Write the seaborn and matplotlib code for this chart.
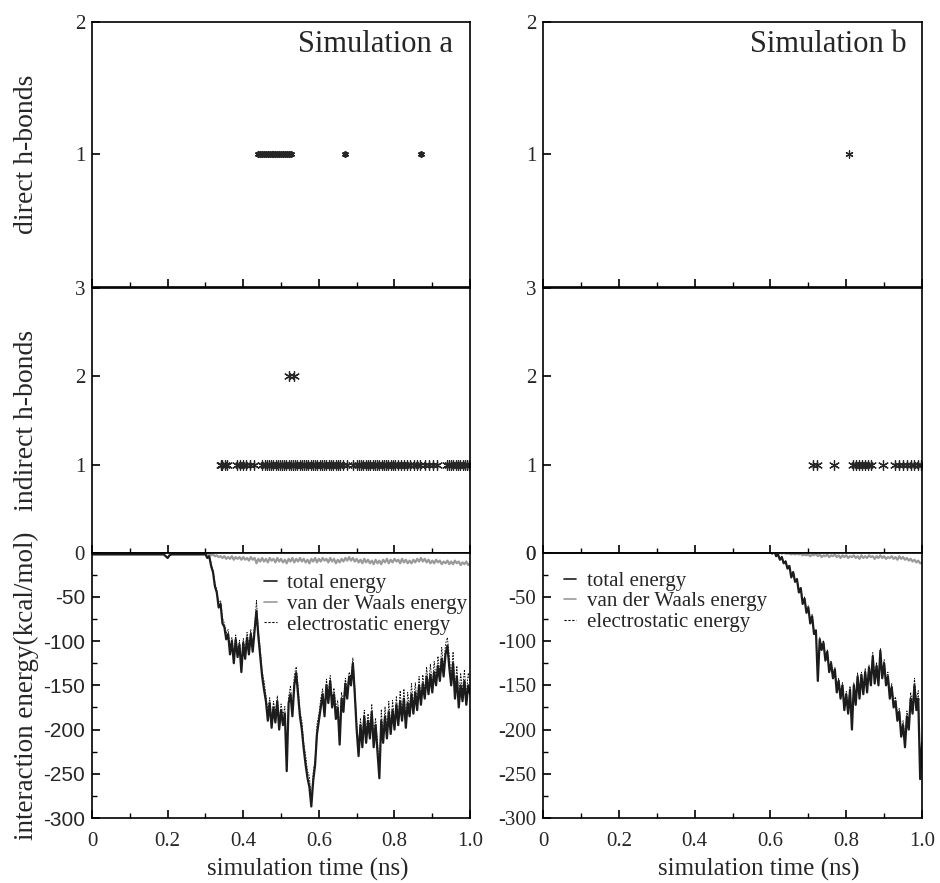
import numpy as np
import matplotlib
matplotlib.use("Agg")
import matplotlib.pyplot as plt
from matplotlib.ticker import MultipleLocator
from matplotlib.lines import Line2D
import seaborn as sns

# ---------------- h-bond events (time in ns) ----------------
direct_a_t = [0.440, 0.445, 0.450, 0.455, 0.460, 0.465, 0.470, 0.475, 0.480,
              0.485, 0.490, 0.495, 0.500, 0.505, 0.510, 0.515, 0.520, 0.525,
              0.668, 0.870]
direct_b_t = [0.807]

indirect_a_t1 = [0.340, 0.345, 0.352, 0.358,
                 0.384, 0.392, 0.400, 0.408, 0.418, 0.428,
                 0.450, 0.457, 0.463, 0.468, 0.474, 0.480, 0.486, 0.491, 0.497,
                 0.503, 0.508, 0.514, 0.520, 0.525, 0.531, 0.537, 0.543, 0.549,
                 0.555, 0.561, 0.567, 0.572, 0.578, 0.584, 0.590, 0.596, 0.602,
                 0.608, 0.614, 0.620, 0.626, 0.632, 0.638, 0.644, 0.650, 0.657,
                 0.664, 0.675, 0.690, 0.700,
                 0.706, 0.712, 0.718, 0.724, 0.730, 0.736, 0.742, 0.748, 0.754,
                 0.760, 0.766, 0.772, 0.778, 0.784, 0.790, 0.796,
                 0.802, 0.808, 0.816, 0.824, 0.833, 0.842, 0.851, 0.860, 0.868,
                 0.882, 0.892, 0.902, 0.912,
                 0.938, 0.944, 0.950, 0.956, 0.962, 0.968, 0.974, 0.980, 0.986,
                 0.992, 0.998]
indirect_a_t2 = [0.520, 0.535]
indirect_b_t1 = [0.712, 0.722, 0.768, 0.818, 0.826, 0.834, 0.842, 0.850, 0.858,
                 0.866, 0.897, 0.929, 0.940, 0.950, 0.960, 0.970, 0.980, 0.990,
                 0.998]

# ---------------- interaction energies (kcal/mol), sampled every 5 ps ----------------
time_ns = np.round(np.arange(201) * 0.005, 3)

total_a = ([-2] * 39 + [-4, -6, -3] + [-2] * 18 +
           [-2, -6, -4, -15, -22, -38, -45, -62, -58, -80,
            -84, -98, -92, -115, -100, -125, -98, -118, -104, -135,
            -102, -120, -96, -115, -92, -112, -88, -66, -95, -118,
            -140, -155, -168, -190, -170, -198, -175, -192, -168, -200,
            -178, -195, -182, -247, -170, -160, -185, -150, -136, -160,
            -185, -200, -222, -240, -255, -265, -287, -258, -240, -205,
            -190, -175, -160, -185, -150, -170, -145, -175, -160, -188,
            -175, -217, -165, -180, -148, -165, -140, -150, -125, -160,
            -200, -230, -195, -220, -185, -215, -190, -210, -180, -220,
            -195, -225, -255, -190, -215, -185, -210, -180, -205, -178,
            -200, -172, -195, -168, -190, -165, -198, -170, -185, -160,
            -182, -158, -178, -150, -172, -148, -165, -140, -160, -138,
            -158, -135, -150, -128, -145, -120, -140, -115, -105, -130,
            -150, -125, -165, -140, -175, -150, -168, -145, -172, -150,
            -160])
vdw_a = ([0] * 60 +
         [-1, -2, -1, -3, -2, -4, -3, -5, -4, -6,
          -4, -7, -5, -7, -4, -8, -5, -7, -5, -8,
          -5, -8, -6, -9, -5, -8, -6, -12, -7, -10,
          -6, -10, -7, -11, -6, -9, -7, -11, -6, -10,
          -7, -11, -8, -12, -7, -10, -6, -11, -7, -10,
          -6, -10, -7, -11, -8, -12, -7, -10, -6, -11,
          -7, -10, -6, -9, -7, -11, -6, -10, -7, -12,
          -8, -11, -7, -10, -6, -9, -5, -9, -6, -10,
          -7, -11, -8, -12, -7, -11, -8, -12, -9, -13,
          -8, -12, -9, -13, -8, -11, -7, -12, -8, -11,
          -7, -10, -8, -12, -7, -11, -8, -12, -9, -12,
          -8, -11, -7, -10, -6, -10, -7, -11, -8, -12,
          -9, -12, -8, -11, -9, -13, -10, -12, -9, -13,
          -10, -13, -9, -12, -10, -14, -11, -13, -10, -14,
          -12])

total_b = ([0] * 120 +
           [0, -1, 2, -4, -2, -8, -5, -12, -10, -18,
            -15, -28, -22, -33, -30, -45, -40, -58, -52, -68,
            -62, -80, -72, -92, -88, -145, -98, -110, -102, -122,
            -112, -135, -125, -142, -132, -158, -145, -165, -150, -178,
            -160, -182, -155, -200, -150, -172, -140, -165, -138, -160,
            -135, -158, -130, -150, -117, -148, -128, -150, -111, -142,
            -125, -150, -140, -165, -152, -175, -168, -190, -180, -208,
            -195, -220, -185, -200, -165, -182, -150, -178, -165, -256,
            -215])
vdw_b = ([0] * 120 +
         [0, 0, 0, 0, -1, 0, -1, 0, -1, -1,
          -1, -2, -1, -2, -1, -2, -1, -3, -2, -3,
          -2, -4, -2, -3, -1, -4, -2, -5, -3, -4,
          -2, -5, -3, -4, -2, -5, -3, -6, -3, -5,
          -3, -6, -4, -5, -3, -6, -4, -7, -3, -6,
          -4, -6, -3, -5, -4, -7, -4, -6, -3, -6,
          -4, -7, -5, -6, -4, -7, -5, -8, -4, -7,
          -5, -8, -6, -9, -7, -10, -8, -11, -9, -12,
          -11])

# electrostatic part = total - van der Waals
elec_a = np.array(total_a) - np.array(vdw_a)
elec_b = np.array(total_b) - np.array(vdw_b)

energy_ticks = [-300, -250, -200, -150, -100, -50, 0]
energy_labels = ["-300", "-250", "-200", "-150", "-100", "-50", "0"]
time_ticks = [0, 0.2, 0.4, 0.6, 0.8, 1.0]
time_labels = ["0", "0.2", "0.4", "0.6", "0.8", "1.0"]

sns.set_theme(style="ticks")
plt.rcParams["font.family"] = ["Liberation Serif", "DejaVu Serif"]
plt.rcParams["axes.linewidth"] = 1.2

fig = plt.figure(figsize=(9.4, 8.83), dpi=100)

cols_x = [0.0979, 0.5777]
col_w = [0.4022, 0.4032]
rows_y = [0.675, 0.3737, 0.0736]
row_h = 0.3005

ink = "#262626"
star = (6, 2, 0)


def style_axis(ax, show_xlabels):
    ax.set_xlim(0, 1.0)
    ax.xaxis.set_major_locator(MultipleLocator(0.2))
    ax.xaxis.set_minor_locator(MultipleLocator(0.1))
    ax.tick_params(axis="both", which="major", direction="in", length=6,
                   width=1.2, color="black", labelsize=15, pad=5)
    ax.tick_params(axis="x", which="minor", direction="in", length=3.5,
                   width=1.0, color="black")
    ax.tick_params(axis="y", which="minor", direction="in", length=3.5,
                   width=1.0, color="black")
    for sp in ax.spines.values():
        sp.set_color("black")
        sp.set_linewidth(1.2)
    if show_xlabels:
        ax.set_xticks(time_ticks)
        ax.set_xticklabels(time_labels)
        ax.tick_params(axis="x", which="major", pad=10)
    else:
        ax.tick_params(axis="x", labelbottom=False)


for c in range(2):
    ax_top = fig.add_axes([cols_x[c], rows_y[0], col_w[c], row_h])
    ax_mid = fig.add_axes([cols_x[c], rows_y[1], col_w[c], row_h])
    ax_bot = fig.add_axes([cols_x[c], rows_y[2], col_w[c], row_h])

    # direct h-bonds
    if c == 0:
        sns.scatterplot(x=direct_a_t, y=[1] * len(direct_a_t), ax=ax_top,
                        marker=star, s=14, color=ink, linewidth=1.4)
    else:
        sns.scatterplot(x=direct_b_t, y=[1] * len(direct_b_t), ax=ax_top,
                        marker=star, s=26, color=ink, linewidth=0.9)
    ax_top.set_ylim(0, 2)
    ax_top.set_yticks([1, 2])
    ax_top.set_yticklabels(["1", "2"])
    style_axis(ax_top, False)

    # indirect h-bonds
    if c == 0:
        sns.scatterplot(x=indirect_a_t1, y=[1] * len(indirect_a_t1), ax=ax_mid,
                        marker=star, s=50, color=ink, linewidth=0.9)
        sns.scatterplot(x=indirect_a_t2, y=[2] * len(indirect_a_t2), ax=ax_mid,
                        marker=star, s=50, color=ink, linewidth=0.9)
    else:
        sns.scatterplot(x=indirect_b_t1, y=[1] * len(indirect_b_t1), ax=ax_mid,
                        marker=star, s=50, color=ink, linewidth=0.9)
    ax_mid.set_ylim(0, 3)
    ax_mid.set_yticks([0, 1, 2, 3])
    ax_mid.set_yticklabels(["0", "1", "2", "3"])
    style_axis(ax_mid, False)

    # interaction energy
    tot, vdw, ele = (total_a, vdw_a, elec_a) if c == 0 else (total_b, vdw_b, elec_b)
    sns.lineplot(x=time_ns, y=ele, ax=ax_bot, color="black", lw=0.6,
                 linestyle=(0, (2, 1.5)), errorbar=None)
    sns.lineplot(x=time_ns, y=vdw, ax=ax_bot, color="#9a9a9a", lw=1.6,
                 errorbar=None)
    sns.lineplot(x=time_ns, y=tot, ax=ax_bot, color="#1c1c1c", lw=1.6,
                 errorbar=None)
    ax_bot.set_ylim(-300, 0)
    ax_bot.set_yticks(energy_ticks)
    if c == 0:
        # the "0" here is the one already printed by the panel above
        ax_bot.set_yticklabels(energy_labels[:-1] + [""],
                               fontfamily=["Liberation Sans", "DejaVu Sans"],
                               fontsize=15.5)
    else:
        ax_bot.set_yticklabels(energy_labels)
    ax_bot.yaxis.set_minor_locator(MultipleLocator(25))
    style_axis(ax_bot, True)

    handles = [Line2D([], [], color="#1c1c1c", lw=1.2),
               Line2D([], [], color="#9a9a9a", lw=1.2),
               Line2D([], [], color="black", lw=0.8, linestyle=(0, (2, 1.5)))]
    names = ["total energy", "van der Waals energy", "electrostatic energy"]
    anchor = (0.455, 0.92) if c == 0 else (0.055, 0.93)
    ax_bot.legend(handles, names, loc="upper left", bbox_to_anchor=anchor,
                  frameon=False, fontsize=15, handlelength=0.6,
                  handletextpad=0.5, labelspacing=0.05, borderpad=0,
                  borderaxespad=0)

    ax_bot.set_xlabel("simulation time (ns)", fontsize=18)
    ax_bot.xaxis.set_label_coords(0.57, -0.15)
    for a in (ax_top, ax_mid, ax_bot):
        a.set_ylabel("")

    ax_top.text(0.955 if c == 0 else 0.96, 0.885,
                "Simulation a" if c == 0 else "Simulation b",
                transform=ax_top.transAxes, ha="right", va="baseline",
                fontsize=22)

    if c == 0:
        ax_top.set_ylabel("direct h-bonds", fontsize=20)
        ax_mid.set_ylabel("indirect h-bonds", fontsize=20)
        ax_bot.set_ylabel("interaction energy(kcal/mol)", fontsize=19.5)
        for a in (ax_top, ax_mid, ax_bot):
            a.yaxis.set_label_coords(-0.14, 0.5)

fig.savefig("out.png", dpi=100, facecolor="white")
